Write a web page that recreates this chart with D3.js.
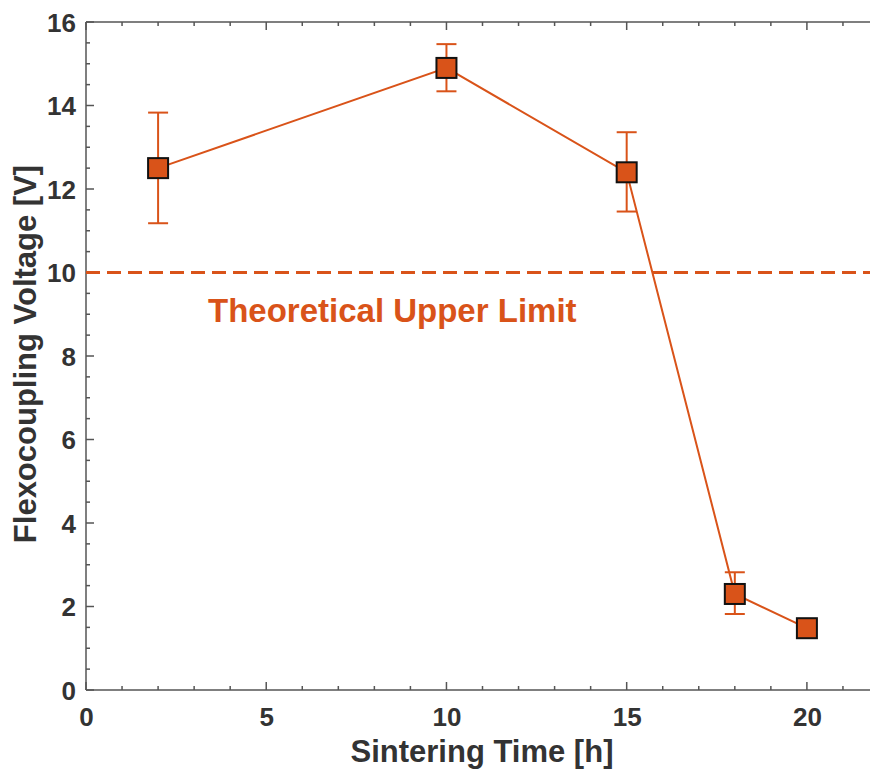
<!DOCTYPE html>
<html><head><meta charset="utf-8">
<script src="https://cdn.jsdelivr.net/npm/d3@7"></script>
<style>body{margin:0;background:#fff}svg{display:block}text{font-family:"Liberation Sans",Arial,Helvetica,sans-serif;font-weight:bold}</style>
</head><body>
<svg id="c" width="870" height="770"></svg>
<script>
const times = [2, 10, 15, 18, 20];
const voltage = [12.5, 14.9, 12.4, 2.3, 1.48];
const errLow = [11.18, 14.34, 11.46, 1.82, 1.44];
const errHigh = [13.83, 15.47, 13.36, 2.82, 1.52];
const xTicks = [0, 5, 10, 15, 20];
const yTicks = [0, 2, 4, 6, 8, 10, 12, 14, 16];
const limitValue = 10;
const limitLabel = "Theoretical Upper Limit";

const col = "#D95319", axCol = "#555", txtCol = "#333";
const svg = d3.select("#c");
const x = d3.scaleLinear().domain([0, 22]).range([86, 879]);
const y = d3.scaleLinear().domain([0, 16]).range([690, 22]);

// axes box
const g = svg.append("g");
g.append("line").attr("x1", x(0)).attr("x2", x(22)).attr("y1", y(0)).attr("y2", y(0)).attr("stroke", axCol).attr("stroke-width", 1.5);
g.append("line").attr("x1", x(0)).attr("x2", x(22)).attr("y1", y(16)).attr("y2", y(16)).attr("stroke", axCol).attr("stroke-width", 1.5);
g.append("line").attr("x1", x(0)).attr("x2", x(0)).attr("y1", y(0)).attr("y2", y(16)).attr("stroke", axCol).attr("stroke-width", 1.5);
g.append("line").attr("x1", x(22)).attr("x2", x(22)).attr("y1", y(0)).attr("y2", y(16)).attr("stroke", axCol).attr("stroke-width", 1.5);

// x ticks (major + minor), bottom and top
const xMinor = d3.range(0, 22.01, 1);
xMinor.forEach(v => {
  const len = (v % 5 === 0) ? 8 : 4;
  [[y(0), -1], [y(16), 1]].forEach(([y0, s]) => {
    g.append("line").attr("x1", x(v)).attr("x2", x(v)).attr("y1", y0).attr("y2", y0 + s * len).attr("stroke", axCol).attr("stroke-width", 1.5);
  });
});
const yMinor = d3.range(0, 16.01, 0.5);
yMinor.forEach(v => {
  const len = (v % 2 === 0) ? 8 : 4;
  [[x(0), 1], [x(22), -1]].forEach(([x0, s]) => {
    g.append("line").attr("y1", y(v)).attr("y2", y(v)).attr("x1", x0).attr("x2", x0 + s * len).attr("stroke", axCol).attr("stroke-width", 1.5);
  });
});

// tick labels via axes
const xAxis = svg.append("g").attr("transform", `translate(0,${y(0)})`)
  .call(d3.axisBottom(x).tickValues(xTicks).tickSize(0).tickPadding(0));
xAxis.select(".domain").remove();
xAxis.selectAll("text").attr("font-size", 26).attr("fill", txtCol).attr("dy", null).attr("y", 36);
const yAxis = svg.append("g").attr("transform", `translate(${x(0)},0)`)
  .call(d3.axisLeft(y).tickValues(yTicks).tickSize(0).tickPadding(10));
yAxis.select(".domain").remove();
yAxis.selectAll("text").attr("font-size", 26).attr("fill", txtCol).attr("dy", "0.36em");

// axis labels
svg.append("text").attr("x", 482).attr("y", 762).attr("text-anchor", "middle").attr("font-size", 31).attr("fill", txtCol).text("Sintering Time [h]");
svg.append("text").attr("transform", `translate(36,${y(8) - 2}) rotate(-90)`).attr("text-anchor", "middle").attr("font-size", 31).attr("fill", txtCol).text("Flexocoupling Voltage [V]");

// limit line
svg.append("line").attr("x1", x(0)).attr("x2", x(22)).attr("y1", y(limitValue)).attr("y2", y(limitValue))
  .attr("stroke", col).attr("stroke-width", 3).attr("stroke-dasharray", "14,7");
svg.append("text").attr("x", 208).attr("y", 322).attr("font-size", 33).attr("fill", col).text(limitLabel);

// line
const data = times.map((t, i) => ({t, v: voltage[i], lo: errLow[i], hi: errHigh[i]}));
svg.append("path").datum(data).attr("fill", "none").attr("stroke", col).attr("stroke-width", 2)
  .attr("d", d3.line().x(d => x(d.t)).y(d => y(d.v)));

// error bars
const eb = svg.append("g").attr("stroke", col).attr("stroke-width", 2);
data.forEach(d => {
  eb.append("line").attr("x1", x(d.t)).attr("x2", x(d.t)).attr("y1", y(d.lo)).attr("y2", y(d.hi));
  eb.append("line").attr("x1", x(d.t) - 10).attr("x2", x(d.t) + 10).attr("y1", y(d.lo)).attr("y2", y(d.lo));
  eb.append("line").attr("x1", x(d.t) - 10).attr("x2", x(d.t) + 10).attr("y1", y(d.hi)).attr("y2", y(d.hi));
});

// markers
const ms = 20;
svg.append("g").selectAll("rect").data(data).join("rect")
  .attr("x", d => x(d.t) - ms / 2).attr("y", d => y(d.v) - ms / 2)
  .attr("width", ms).attr("height", ms).attr("fill", col).attr("stroke", "#111").attr("stroke-width", 2);
</script>
</body></html>
